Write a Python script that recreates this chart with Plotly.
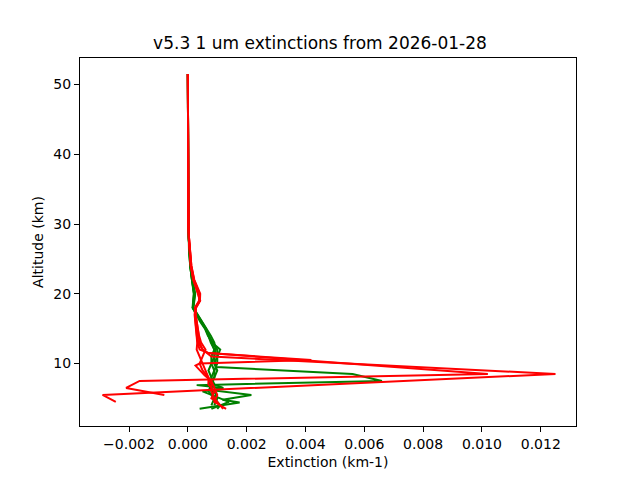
import plotly.graph_objects as go

# red profiles (altitude km, extinction km-1)
red_alt_1 = [51.5, 45, 40, 35, 30, 28, 26, 24, 22, 20, 19, 18, 17, 16, 15, 14, 13, 12, 11, 8.5, 5.5, 4.5]
red_ext_1 = [0.0, 0.0, 0.0, 0.00001, 0.00002, 0.00004, 0.00007, 0.00011, 0.0002, 0.00038, 0.0004, 0.00026,
             0.00025, 0.00028, 0.0003, 0.00032, 0.00035, 0.0005, 0.0008, 0.0125, -0.0029, -0.00245]

red_alt_2 = [51.5, 45, 40, 35, 30, 28, 26, 24, 22, 20, 19, 18, 17, 16, 15, 14, 13, 12, 11.5, 8.5, 7.5, 6.5, 5.5]
red_ext_2 = [0.0, 0.0, 0.0, 0.00001, 0.00002, 0.00003, 0.00006, 0.0001, 0.00019, 0.00036, 0.00042, 0.00028,
             0.00024, 0.00026, 0.00029, 0.0003, 0.00033, 0.0004, 0.0007, 0.0102, -0.00164, -0.0021, -0.0008]

red_alt_3 = [51.5, 45, 40, 35, 30, 28, 26, 24, 22, 20, 19, 18, 17, 16, 15, 14, 13, 12, 11.5, 10.5, 10, 9.7,
             8.3, 7.5, 6.5, 5.5, 4.5, 3.5]
red_ext_3 = [0.0, 0.0, 0.0, 0.00001, 0.00002, 0.00004, 0.00008, 0.00012, 0.00021, 0.0004, 0.00038, 0.00024,
             0.00027, 0.0003, 0.00033, 0.00036, 0.0004, 0.0005, 0.0007, 0.0042, 0.0004, 0.00026,
             0.00057, 0.0008, 0.0009, 0.001, 0.0009, 0.0013]

red_alt_4 = [51.5, 45, 40, 35, 30, 28, 26, 24, 22, 20, 19, 18, 17, 16, 15, 14, 13, 12, 11, 10, 9, 8, 7, 6,
             5, 4, 3.5]
red_ext_4 = [0.0, 0.0, 0.0, 0.00001, 0.00002, 0.00003, 0.00006, 0.0001, 0.00018, 0.00035, 0.0004, 0.00025,
             0.00023, 0.00025, 0.00027, 0.0003, 0.00032, 0.0003, 0.0004, 0.0005, 0.0006, 0.0007, 0.0008,
             0.0008, 0.0009, 0.0011, 0.0012]

red_alt_5 = [51.5, 45, 40, 35, 30, 28, 26, 24, 22, 20, 19, 18, 17, 16, 15, 14, 13, 12, 11, 10, 9, 8, 7, 6,
             5, 4.5]
red_ext_5 = [0.0, 0.0, 0.0, 0.00001, 0.00002, 0.00004, 0.00007, 0.00012, 0.00022, 0.00042, 0.00041, 0.00027,
             0.00026, 0.0003, 0.00034, 0.00038, 0.00045, 0.0006, 0.0005, 0.0004, 0.0005, 0.0007, 0.0007,
             0.0009, 0.0008, 0.001]

# green profiles
green_alt_1 = [51.5, 45, 40, 35, 30, 28, 26, 24, 22, 20, 18, 17, 16, 15, 14, 13, 12, 11, 10, 9.5, 8.5, 7.5,
               6.9, 6.5, 6, 5, 4]
green_ext_1 = [0.0, 0.0, 0.0, 0.00001, 0.00002, 0.00003, 0.00005, 0.00008, 0.00014, 0.00022, 0.00017,
               0.0003, 0.00045, 0.0006, 0.0007, 0.00085, 0.001, 0.001, 0.0009, 0.00097, 0.0056, 0.0066,
               0.0003, 0.0012, 0.0008, 0.0009, 0.0008]

green_alt_2 = [51.5, 45, 40, 35, 30, 28, 26, 24, 22, 20, 18, 17, 16, 15, 14, 13, 12, 11, 10, 9, 8, 7, 6.2,
               5.5, 4.8, 4.4, 3.5]
green_ext_2 = [0.0, 0.0, 0.0, 0.00001, 0.00002, 0.00003, 0.00005, 0.00009, 0.00015, 0.00024, 0.00018,
               0.00032, 0.00048, 0.00062, 0.00072, 0.0008, 0.0009, 0.0009, 0.0008, 0.0009, 0.0009, 0.0008,
               0.00074, 0.00216, 0.00118, 0.00176, 0.0004]

green_alt_3 = [51.5, 45, 40, 35, 30, 28, 26, 24, 22, 20, 18, 17, 16, 15, 14, 13, 12, 11, 10, 9, 8, 7, 6.5,
               6, 5, 4.5, 3.5]
green_ext_3 = [0.0, 0.0, 0.0, 0.00001, 0.00002, 0.00003, 0.00004, 0.00008, 0.00013, 0.0002, 0.00016,
               0.00028, 0.00042, 0.00058, 0.00068, 0.00082, 0.0011, 0.001, 0.001, 0.0009, 0.0008, 0.0009,
               0.0012, 0.0005, 0.0011, 0.0014, 0.0008]

green_alt_4 = [51.5, 45, 40, 35, 30, 28, 26, 24, 22, 20, 18, 17, 16, 15, 14, 13, 12, 11, 10, 9, 8, 7, 6,
               5, 4, 3.5]
green_ext_4 = [0.0, 0.0, 0.0, 0.00001, 0.00002, 0.00003, 0.00005, 0.00008, 0.00014, 0.00021, 0.00017,
               0.0003, 0.00046, 0.0006, 0.0007, 0.00078, 0.0009, 0.0008, 0.0008, 0.0007, 0.0008, 0.0008,
               0.0007, 0.0009, 0.0011, 0.001]

green_alt_5 = [51.5, 45, 40, 35, 30, 28, 26, 24, 22, 20, 18, 17, 16, 15, 14, 13, 12, 11, 10, 9, 8, 7, 6,
               5, 4]
green_ext_5 = [0.0, 0.0, 0.0, 0.00001, 0.00002, 0.00003, 0.00005, 0.00009, 0.00016, 0.00025, 0.00019,
               0.00034, 0.0005, 0.00066, 0.00078, 0.0009, 0.00095, 0.0009, 0.0009, 0.001, 0.0009, 0.0007,
               0.0009, 0.001, 0.0009]

profiles = [
    (green_ext_1, green_alt_1, "green"),
    (green_ext_2, green_alt_2, "green"),
    (green_ext_3, green_alt_3, "green"),
    (green_ext_4, green_alt_4, "green"),
    (green_ext_5, green_alt_5, "green"),
    (red_ext_1, red_alt_1, "red"),
    (red_ext_2, red_alt_2, "red"),
    (red_ext_3, red_alt_3, "red"),
    (red_ext_4, red_alt_4, "red"),
    (red_ext_5, red_alt_5, "red"),
]

fig = go.Figure()
for ext, alt, col in profiles:
    fig.add_trace(go.Scatter(x=ext, y=alt, mode="lines",
                             line=dict(color=col, width=2), showlegend=False))

axis_common = dict(showline=True, linecolor="black", linewidth=1, mirror=True,
                   ticks="outside", ticklen=5, tickwidth=1, tickcolor="black",
                   showgrid=False, zeroline=False,
                   tickfont=dict(family="DejaVu Sans", size=14, color="black"))

fig.update_layout(
    width=640, height=480,
    margin=dict(l=80, r=64, t=58, b=52),
    plot_bgcolor="white", paper_bgcolor="white",
    font=dict(family="DejaVu Sans", color="black"),
    title=dict(text="v5.3 1 um extinctions from 2026-01-28", x=0.5, xanchor="center",
               y=1 - 43 / 480, yanchor="middle", yref="container",
               font=dict(size=17, family="DejaVu Sans", color="black")),
    xaxis=dict(range=[-0.003667, 0.013197], dtick=0.002, tick0=0, tickformat=".3f",
               title=dict(text="Extinction (km-1)", standoff=6,
                          font=dict(size=14, family="DejaVu Sans")),
               **axis_common),
    yaxis=dict(range=[1.04, 53.81], tickvals=[10, 20, 30, 40, 50],
               title=dict(text="Altitude (km)", standoff=6,
                          font=dict(size=14, family="DejaVu Sans")),
               **axis_common),
)

fig.write_html("out.html", config={"displayModeBar": False},
               post_script="document.body.style.margin='0px';")
